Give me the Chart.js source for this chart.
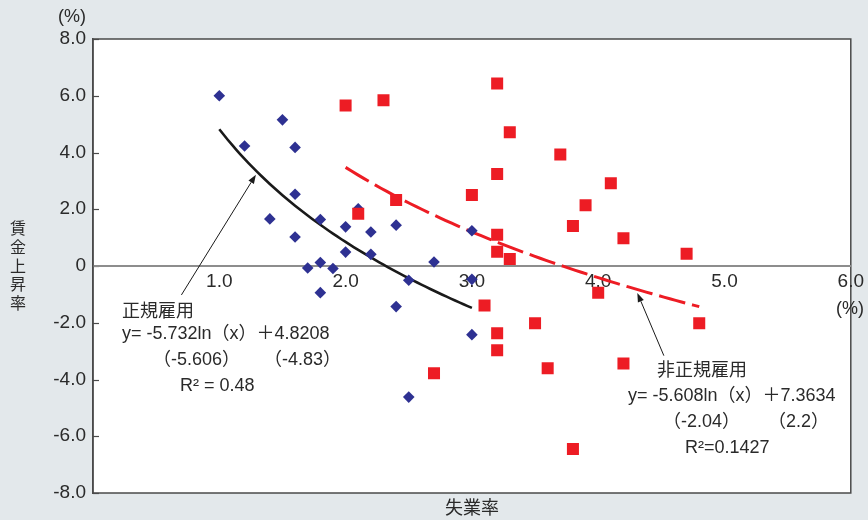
<!DOCTYPE html>
<html>
<head>
<meta charset="utf-8">
<script src="https://cdn.jsdelivr.net/npm/chart.js@4.4.1/dist/chart.umd.min.js"></script>
<style>
  html, body { margin: 0; padding: 0; background: #e3e8eb; }
  #wrap { width: 868px; height: 520px; }
</style>
</head>
<body>
<div id="wrap"><canvas id="c" width="868" height="520"></canvas></div>
<script>
// 正規雇用: unemployment rate (x) vs wage growth (y)
const regularX = [1.0, 1.5, 1.2, 1.6, 1.6, 1.4, 1.8, 2.1, 1.6, 2.0, 2.2, 2.4, 3.0,
                  2.0, 2.2, 2.7, 1.7, 1.8, 1.9, 2.5, 3.0, 1.8, 2.4, 3.0, 2.5];
const regularY = [6.0, 5.15, 4.23, 4.18, 2.53, 1.66, 1.64, 2.02, 1.02, 1.38, 1.20, 1.44, 1.24,
                  0.49, 0.41, 0.14, -0.07, 0.12, -0.09, -0.50, -0.47, -0.94, -1.43, -2.42, -4.62];

// 非正規雇用
const nonRegularX = [3.2, 2.0, 2.3, 3.3, 3.7, 3.2, 4.1, 3.0, 3.9, 2.4, 2.1, 3.8, 4.2, 3.2,
                     3.2, 3.3, 4.7, 4.0, 3.1, 4.8, 3.5, 3.2, 3.2, 4.2, 3.6, 2.7, 3.8];
const nonRegularY = [6.43, 5.66, 5.84, 4.71, 3.93, 3.24, 2.92, 2.50, 2.14, 2.33, 1.84, 1.41, 0.98, 1.10,
                     0.50, 0.25, 0.43, -0.94, -1.39, -2.02, -2.02, -2.37, -2.97, -3.44, -3.60, -3.78, -6.45];

// Fitted log curves y = a·ln(x) + b, as given in the equations on the chart
const regularFit = { a: -5.732, b: 4.8208, from: 1.0, to: 3.0 };
const nonRegularFit = { a: -5.608, b: 7.3634, from: 2.0, to: 4.8 };

const xTickValues = [1, 2, 3, 4, 5, 6];
const yTickValues = [-8, -6, -4, -2, 0, 2, 4, 6, 8];

const pairs = (xs, ys) => xs.map((x, i) => ({ x: x, y: ys[i] }));
function fitCurve(fit) {
  const pts = [];
  const n = 60;
  for (let i = 0; i <= n; i++) {
    const x = fit.from + (fit.to - fit.from) * i / n;
    pts.push({ x: x, y: fit.a * Math.log(x) + fit.b });
  }
  return pts;
}

const TEXT = '#2a2a2a';
const LATIN = '"Liberation Sans", Arial, "Noto Sans CJK JP", sans-serif';
const CJK = '"Noto Sans CJK JP", "Liberation Sans", sans-serif';

function arrow(ctx, x1, y1, x2, y2) {
  const ang = Math.atan2(y2 - y1, x2 - x1);
  const len = 9, half = 3.2;
  const bx = x2 - len * Math.cos(ang), by = y2 - len * Math.sin(ang);
  ctx.beginPath();
  ctx.moveTo(x1, y1);
  ctx.lineTo(bx, by);
  ctx.stroke();
  ctx.beginPath();
  ctx.moveTo(x2, y2);
  ctx.lineTo(bx + half * Math.sin(ang), by - half * Math.cos(ang));
  ctx.lineTo(bx - half * Math.sin(ang), by + half * Math.cos(ang));
  ctx.closePath();
  ctx.fill();
}

const decor = {
  id: 'decor',
  beforeDraw(chart) {
    const { ctx, chartArea: a } = chart;
    const ys = chart.scales.y;
    ctx.save();
    ctx.fillStyle = '#e3e8eb';
    ctx.fillRect(0, 0, chart.width, chart.height);
    ctx.fillStyle = '#ffffff';
    ctx.fillRect(a.left, a.top, a.right - a.left, a.bottom - a.top);
    // plot frame
    ctx.strokeStyle = '#4a4a4a';
    ctx.lineWidth = 1.5;
    ctx.strokeRect(a.left, a.top, a.right - a.left, a.bottom - a.top);
    // inward tick marks on the value axis
    ctx.lineWidth = 1.2;
    yTickValues.forEach(v => {
      const py = Math.round(ys.getPixelForValue(v)) + 0.5;
      ctx.beginPath();
      ctx.moveTo(a.left, py);
      ctx.lineTo(a.left + 6, py);
      ctx.stroke();
    });
    ctx.restore();
  },
  afterDraw(chart) {
    const { ctx } = chart;
    const xs = chart.scales.x, ys = chart.scales.y;
    ctx.save();
    ctx.fillStyle = TEXT;
    ctx.textBaseline = 'middle';
    // unit labels
    ctx.font = '18px ' + LATIN;
    ctx.textAlign = 'center';
    ctx.fillText('(%)', 72, 17);
    ctx.fillText('(%)', 850, 309);
    // axis titles
    ctx.font = '18px ' + CJK;
    ctx.fillText('失業率', 472, 507);
    ctx.font = '16px ' + CJK;
    ['賃', '金', '上', '昇', '率'].forEach((ch, i) => ctx.fillText(ch, 18, 228 + i * 18.8));

    // equation notes
    ctx.textAlign = 'left';
    ctx.font = '18px ' + CJK;
    ctx.fillText('正規雇用', 122, 310);
    ctx.fillText('非正規雇用', 657, 369);
    ctx.font = '18px ' + LATIN;
    ctx.fillText('y= -5.732ln（x）＋4.8208', 122, 334);
    ctx.fillText('（-5.606）', 153, 360);
    ctx.fillText('（-4.83）', 264, 360);
    ctx.fillText('R² = 0.48', 180, 386);
    ctx.fillText('y= -5.608ln（x）＋7.3634', 628, 396);
    ctx.fillText('（-2.04）', 663, 422);
    ctx.fillText('（2.2）', 768, 422);
    ctx.fillText('R²=0.1427', 685, 448);

    // pointers to the fitted curves
    ctx.strokeStyle = '#1a1a1a';
    ctx.fillStyle = '#1a1a1a';
    ctx.lineWidth = 1;
    arrow(ctx, xs.getPixelForValue(0.70), ys.getPixelForValue(-1.02),
               xs.getPixelForValue(1.29), ys.getPixelForValue(3.22));
    arrow(ctx, xs.getPixelForValue(4.52), ys.getPixelForValue(-3.16),
               xs.getPixelForValue(4.31), ys.getPixelForValue(-0.95));
    ctx.restore();
  }
};

new Chart(document.getElementById('c'), {
  type: 'scatter',
  data: {
    datasets: [
      {
        label: '非正規雇用',
        data: pairs(nonRegularX, nonRegularY),
        pointStyle: 'rect',
        pointRadius: 8.5,
        backgroundColor: '#ed1c24',
        borderWidth: 0,
        order: 0
      },
      {
        label: '正規雇用',
        data: pairs(regularX, regularY),
        pointStyle: 'rectRot',
        pointRadius: 5.8,
        backgroundColor: '#2e3192',
        borderWidth: 0,
        order: 1
      },
      {
        type: 'line',
        label: '正規雇用 近似',
        data: fitCurve(regularFit),
        borderColor: '#1a1a1a',
        borderWidth: 2.6,
        pointRadius: 0,
        tension: 0,
        fill: false,
        order: 2
      },
      {
        type: 'line',
        label: '非正規雇用 近似',
        data: fitCurve(nonRegularFit),
        borderColor: '#ed1c24',
        borderWidth: 3,
        borderDash: [27, 7],
        pointRadius: 0,
        tension: 0,
        fill: false,
        order: 3
      }
    ]
  },
  options: {
    responsive: false,
    devicePixelRatio: 1,
    animation: false,
    layout: { padding: { top: 39, right: 15, bottom: 27, left: 0 } },
    plugins: { legend: { display: false }, tooltip: { enabled: false } },
    scales: {
      x: {
        type: 'linear',
        min: 0, max: 6,
        position: { y: 0 },
        afterBuildTicks: s => { s.ticks = [0].concat(xTickValues).map(v => ({ value: v })); },
        ticks: {
          callback: v => (v === 0 ? '' : v.toFixed(1)),
          autoSkip: false, maxRotation: 0,
          color: TEXT, padding: 4,
          font: { family: LATIN, size: 19 }
        },
        grid: { display: true, drawOnChartArea: false, drawTicks: false },
        border: { display: true, color: '#8d8d8d', width: 2 }
      },
      y: {
        type: 'linear',
        min: -8, max: 8,
        afterBuildTicks: s => { s.ticks = yTickValues.map(v => ({ value: v })); },
        afterFit: s => { s.width = 93; },
        ticks: {
          callback: v => (v === 0 ? '0' : v.toFixed(1)),
          autoSkip: false,
          color: TEXT, padding: 7,
          font: { family: LATIN, size: 19 }
        },
        grid: { display: true, drawOnChartArea: false, drawTicks: false },
        border: { display: true, color: '#4a4a4a', width: 1.5 }
      }
    }
  },
  plugins: [decor]
});
</script>
</body>
</html>
